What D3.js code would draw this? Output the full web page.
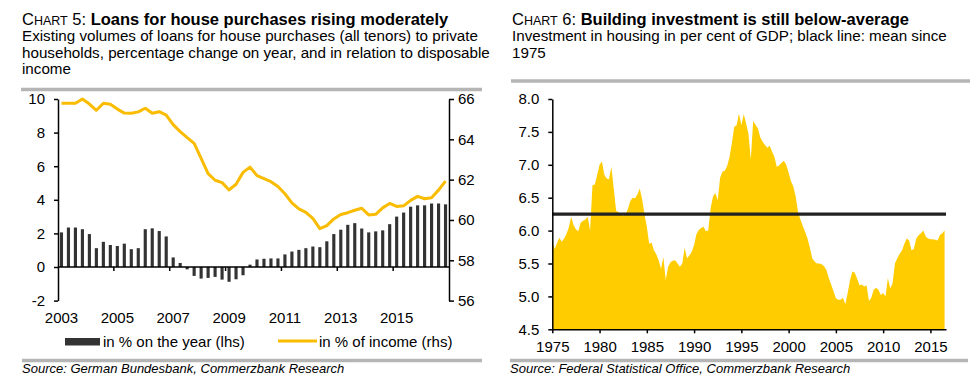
<!DOCTYPE html>
<html>
<head>
<meta charset="utf-8">
<script src="https://cdn.jsdelivr.net/npm/d3@7"></script>
<style>
  body { margin: 0; background: #fff; }
  svg { display: block; font-family: "Liberation Sans", Arial, sans-serif; }
</style>
</head>
<body>
<svg id="chart" width="979" height="388"></svg>
<script>
// chart 5: loans, quarterly 2003 Q1 - 2016 Q4
const loanStartYear = 2003;
const loanYearLabels = [2003, 2005, 2007, 2009, 2011, 2013, 2015];
const loanGrowth = [2.06, 2.35, 2.35, 2.25, 1.96, 1.12, 1.5, 1.31, 1.25, 1.39,
  1.06, 1.12, 2.25, 2.3, 2.14, 1.82, 0.57, 0.24, -0.14, -0.53,
  -0.69, -0.65, -0.59, -0.75, -0.88, -0.73, -0.49, 0.14, 0.45, 0.49,
  0.51, 0.51, 0.75, 0.92, 1.02, 1.12, 1.22, 1.18, 1.53, 1.96,
  2.22, 2.51, 2.61, 2.29, 2.06, 2.12, 2.18, 2.55, 3.0, 3.24,
  3.59, 3.67, 3.67, 3.78, 3.78, 3.73];
const loanIncome = [65.79, 65.79, 65.79, 66.0, 65.75, 65.44, 65.79, 65.74, 65.5, 65.3,
  65.29, 65.36, 65.54, 65.29, 65.37, 65.2, 64.73, 64.38, 64.08, 63.8,
  63.05, 62.3, 61.97, 61.85, 61.49, 61.77, 62.36, 62.62, 62.2, 62.05,
  61.9, 61.66, 61.3, 60.85, 60.55, 60.38, 60.08, 59.57, 59.72, 60.05,
  60.27, 60.36, 60.48, 60.58, 60.25, 60.28, 60.6, 60.82, 60.67, 60.7,
  60.97, 61.17, 61.05, 61.1, 61.48, 61.93];
const loanLeftTicks = [-2, 0, 2, 4, 6, 8, 10];
const loanRightTicks = [56, 58, 60, 62, 64, 66];

// chart 6: housing investment in % of GDP, quarterly from 1975 Q1
const investStartYear = 1975;
const investShare = [
  5.85, 5.72, 5.81, 5.89,  5.83, 5.88, 5.95, 6.05,  6.21, 6.08, 6.02, 5.99,
  6.12, 6.15, 6.17, 6.21,  6.0, 6.69, 6.70, 6.85,   7.0, 7.05, 6.85, 6.79,
  6.78, 6.97, 6.64, 6.3,   6.28, 6.26, 6.22, 6.25,  6.33, 6.45, 6.5, 6.49,
  6.55, 6.64, 6.48, 6.25,  6.06, 5.8, 5.82, 5.7,    5.64, 5.55, 5.42, 5.6,
  5.25, 5.45, 5.52, 5.54,  5.55, 5.5, 5.45, 5.5,    5.74, 5.58, 5.62, 5.68,
  5.78, 5.95, 6.01, 6.04,  6.06, 5.99, 6.0, 6.34,   6.52, 6.57, 6.46, 6.8,
  6.9, 6.91, 6.98, 7.12,   7.33, 7.58, 7.6, 7.78,   7.6, 7.77, 7.63, 7.47,
  7.08, 7.66, 7.61, 7.55,  7.42, 7.35, 7.3, 7.26,   7.29, 7.2, 7.12, 6.97,
  6.99, 7.03, 7.06, 7.0,   6.88, 6.75, 6.67, 6.52,  6.28, 6.17, 6.07, 5.98,
  5.88, 5.74, 5.58, 5.53,  5.5, 5.5, 5.49, 5.46,    5.4, 5.28, 5.18, 5.08,
  4.97, 4.95, 4.95, 4.98,  4.88, 5.05, 5.25, 5.38,  5.36, 5.27, 5.17, 5.18,
  5.15, 5.17, 4.93, 4.98,  5.1, 5.13, 5.1, 5.02,    5.05, 5.0, 5.28, 5.12,
  5.2, 5.5, 5.58, 5.65,    5.7, 5.8, 5.88, 5.85,    5.7, 5.72, 5.88, 5.93,
  5.96, 6.0, 5.91, 5.88,   5.87, 5.87, 5.86, 5.85,  5.93, 5.96, 6.0];
const investMean = 6.25;
const investYearLabels = [1975, 1980, 1985, 1990, 1995, 2000, 2005, 2010, 2015];
const investTicks = [4.5, 5.0, 5.5, 6.0, 6.5, 7.0, 7.5, 8.0];

const YELLOW_LINE = "#F9BC00";
const YELLOW_AREA = "#FFCC00";
const BAR = "#333333";
const RULE = "#b5b5b5";
const AXIS_FONT = 15;

const svg = d3.select("#chart");

function header(x, num, title, lines, ruleY, ruleX2) {
  const t = svg.append("text").attr("x", x).attr("y", 25).attr("font-size", 16.5).attr("fill", "#000");
  t.append("tspan").text("C");
  t.append("tspan").attr("font-size", 12.5).text("HART");
  t.append("tspan").text(" " + num + ": ");
  t.append("tspan").attr("font-weight", "bold").text(title);
  lines.forEach((l, i) => {
    svg.append("text").attr("x", x).attr("y", 41 + i * 16.7)
      .attr("font-size", 15.2).attr("fill", "#000").text(l);
  });
  svg.append("line").attr("x1", x - 1).attr("x2", ruleX2)
    .attr("y1", ruleY).attr("y2", ruleY)
    .attr("stroke", RULE).attr("stroke-width", 3.5);
}

function footer(x, x2, text) {
  svg.append("line").attr("x1", x).attr("x2", x2)
    .attr("y1", 360.5).attr("y2", 360.5)
    .attr("stroke", RULE).attr("stroke-width", 3.5);
  svg.append("text").attr("x", x).attr("y", 373)
    .attr("font-size", 13).attr("font-style", "italic").attr("fill", "#000").text(text);
}

function styleAxis(g) {
  g.selectAll("path, line").attr("stroke", "#000").attr("stroke-width", 1.5);
  g.selectAll("text").attr("font-size", AXIS_FONT).attr("fill", "#000")
    .attr("font-family", "'Liberation Sans', Arial, sans-serif");
}

// ---------- Chart 5 ----------
header(22, 5, "Loans for house purchases rising moderately",
  ["Existing volumes of loans for house purchases (all tenors) to private",
   "households, percentage change on year, and in relation to disposable",
   "income"], 89.5, 482);

const quarters = loanGrowth.map((d, i) => `${loanStartYear + Math.floor(i / 4)} Q${i % 4 + 1}`);
const xL = d3.scaleBand().domain(quarters).range([58, 449]).paddingInner(0.55).paddingOuter(0.27);
const xStep = d3.scaleBand().domain(quarters).range([58, 449]);
const yL = d3.scaleLinear().domain([-2, 10]).range([300.6, 99]);
const yR = d3.scaleLinear().domain([56, 66]).range([300.6, 99]);

svg.append("g").selectAll("rect")
  .data(loanGrowth)
  .join("rect")
  .attr("x", (d, i) => xL(quarters[i]))
  .attr("width", xL.bandwidth())
  .attr("y", d => yL(Math.max(0, d)))
  .attr("height", d => Math.abs(yL(d) - yL(0)))
  .attr("fill", BAR);

// zero line and year ticks
svg.append("line").attr("x1", 58).attr("x2", 449)
  .attr("y1", yL(0)).attr("y2", yL(0)).attr("stroke", "#000").attr("stroke-width", 1.5);
svg.append("g").selectAll("line")
  .data(loanYearLabels.slice(1))
  .join("line")
  .attr("x1", d => xStep(`${d} Q1`)).attr("x2", d => xStep(`${d} Q1`))
  .attr("y1", yL(0)).attr("y2", yL(0) + 4)
  .attr("stroke", "#000").attr("stroke-width", 1.5);
svg.append("g").selectAll("text")
  .data(loanYearLabels)
  .join("text")
  .attr("x", d => xStep(`${d} Q1`) + xStep.bandwidth() / 2)
  .attr("y", 323)
  .attr("text-anchor", "middle")
  .attr("font-size", AXIS_FONT)
  .text(d => d);

const gL = svg.append("g").attr("transform", "translate(58,0)")
  .call(d3.axisLeft(yL).tickValues(loanLeftTicks).tickFormat(d => String(d))
    .tickSize(4).tickSizeOuter(0).tickPadding(9));
styleAxis(gL);
const gR = svg.append("g").attr("transform", "translate(449,0)")
  .call(d3.axisRight(yR).tickValues(loanRightTicks).tickSize(5).tickSizeOuter(0).tickPadding(4));
styleAxis(gR);

svg.append("path")
  .datum(loanIncome)
  .attr("fill", "none")
  .attr("stroke", YELLOW_LINE)
  .attr("stroke-width", 3)
  .attr("stroke-linejoin", "round")
  .attr("d", d3.line()
    .x((d, i) => xStep(quarters[i]) + xStep.bandwidth() / 2)
    .y(d => yR(d)));

// legend
svg.append("rect").attr("x", 65).attr("y", 338).attr("width", 35).attr("height", 7.5).attr("fill", BAR);
svg.append("text").attr("x", 103).attr("y", 347).attr("font-size", AXIS_FONT).text("in % on the year (lhs)");
svg.append("line").attr("x1", 278).attr("x2", 317).attr("y1", 341).attr("y2", 341)
  .attr("stroke", YELLOW_LINE).attr("stroke-width", 3);
svg.append("text").attr("x", 319).attr("y", 347).attr("font-size", AXIS_FONT).text("in % of income (rhs)");

footer(22, 482, "Source: German Bundesbank, Commerzbank Research");

// ---------- Chart 6 ----------
header(512, 6, "Building investment is still below-average",
  ["Investment in housing in per cent of GDP; black line: mean since",
   "1975"], 81, 970);

const xI = d3.scaleLinear().domain([1975, 2016.65]).range([552.3, 946]);
const yI = d3.scaleLinear().domain([4.5, 8.0]).range([329.3, 99]);
const investYear = (d, i) => investStartYear + i / 4;

svg.append("path")
  .datum(investShare)
  .attr("fill", YELLOW_AREA)
  .attr("d", d3.area()
    .x((d, i) => xI(investYear(d, i)))
    .y0(yI(4.5))
    .y1(d => yI(d)));

svg.append("line")
  .attr("x1", xI(1975)).attr("x2", xI(2016.65))
  .attr("y1", yI(investMean)).attr("y2", yI(investMean))
  .attr("stroke", "#222").attr("stroke-width", 3.2);

const gIL = svg.append("g").attr("transform", `translate(${xI(1975)},0)`)
  .call(d3.axisLeft(yI).tickValues(investTicks).tickFormat(d3.format(".1f"))
    .tickSize(4).tickSizeOuter(0).tickPadding(9));
styleAxis(gIL);
const gIB = svg.append("g").attr("transform", `translate(0,${yI(4.5)})`)
  .call(d3.axisBottom(xI).tickValues(investYearLabels).tickFormat(d3.format("d"))
    .tickSize(4).tickSizeOuter(0).tickPadding(8));
styleAxis(gIB);

footer(510, 968, "Source: Federal Statistical Office, Commerzbank Research");
</script>
</body>
</html>
